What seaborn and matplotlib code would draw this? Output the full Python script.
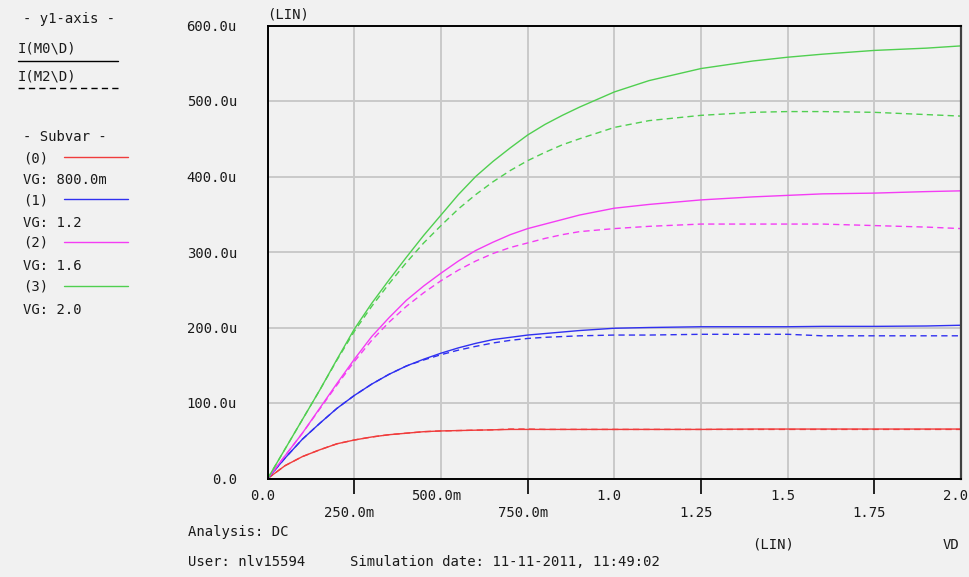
import matplotlib
matplotlib.use("Agg")
import matplotlib.pyplot as plt
import matplotlib.transforms as mtransforms
from matplotlib.lines import Line2D
from matplotlib.ticker import FixedLocator, FixedFormatter, FuncFormatter
import pandas as pd
import seaborn as sns

# Drain sweep VD (V)
VD = [0, 0.05, 0.1, 0.15, 0.2, 0.25, 0.3, 0.35, 0.4, 0.45, 0.5, 0.55, 0.6,
      0.65, 0.7, 0.75, 0.8, 0.85, 0.9, 1.0, 1.1, 1.25, 1.4, 1.5, 1.6, 1.75,
      1.9, 2.0]

# Drain currents in uA, device M0 (solid) and M2 (dashed), per gate voltage
m0_vg08 = [0, 17, 29, 38, 46, 51, 55, 58, 60, 62, 63, 63.5, 64, 64.5, 65, 65,
           65, 65, 65, 65, 65, 65, 65.5, 65.5, 65.5, 65.5, 65.5, 65.5]
m2_vg08 = [0, 17, 29, 38, 46, 51, 55, 58, 60, 62, 63, 63.5, 64, 64.5, 65.5,
           65.5, 65, 65, 65, 65, 65, 65, 65, 65, 65, 65, 65, 65]
m0_vg12 = [0, 27, 52, 73, 93, 110, 125, 138, 149, 158, 166, 173, 179, 184,
           187, 190, 192, 194, 196, 199, 200, 201, 201, 201, 201.5, 201.5,
           202, 203]
m2_vg12 = [0, 27, 52, 73, 93, 110, 125, 138, 149, 157, 164, 170, 175, 179.5,
           183, 185.5, 187, 188, 189, 190, 190, 191, 191, 191, 189, 189, 189,
           189]
m0_vg16 = [0, 30, 60, 93, 126, 158, 188, 213, 236, 255, 272, 288, 302, 313,
           323, 331, 337, 343, 349, 358, 363, 369, 373, 375, 377, 378, 380,
           381]
m2_vg16 = [0, 30, 60, 92, 124, 155, 183, 207, 228, 246, 262, 276, 288, 298,
           306, 312, 318, 323, 327, 331, 334, 337, 337, 337, 337, 335, 333,
           331]
m0_vg20 = [0, 39, 78, 117, 158, 198, 232, 263, 293, 322, 349, 376, 400, 420,
           438, 455, 469, 481, 492, 512, 527, 543, 553, 558, 562, 567, 570,
           573]
m2_vg20 = [0, 39, 78, 117, 157, 195, 228, 258, 286, 312, 335, 357, 376, 393,
           408, 421, 432, 442, 450, 465, 474, 481, 485, 486, 486, 485, 482,
           480]

subvars = ["(0)", "(1)", "(2)", "(3)"]
vg_labels = ["VG: 800.0m", "VG: 1.2", "VG: 1.6", "VG: 2.0"]
colors = ["#f03c3c", "#3030f0", "#f43cf4", "#50cf50"]
devices = ["I(M0\\D)", "I(M2\\D)"]

x_ticks = [0, 0.25, 0.5, 0.75, 1.0, 1.25, 1.5, 1.75, 2.0]
x_tick_labels = ["0.0", "250.0m", "500.0m", "750.0m", "1.0", "1.25", "1.5",
                 "1.75", "2.0"]
y_ticks = [0, 100, 200, 300, 400, 500, 600]

series = {
    ("(0)", devices[0]): m0_vg08, ("(0)", devices[1]): m2_vg08,
    ("(1)", devices[0]): m0_vg12, ("(1)", devices[1]): m2_vg12,
    ("(2)", devices[0]): m0_vg16, ("(2)", devices[1]): m2_vg16,
    ("(3)", devices[0]): m0_vg20, ("(3)", devices[1]): m2_vg20,
}
frames = []
for (sv, dev), vals in series.items():
    frames.append(pd.DataFrame({"VD": VD, "I": vals, "subvar": sv, "device": dev}))
df = pd.concat(frames, ignore_index=True)

BG = "#f1f1f1"
sns.set_style("white", {"axes.facecolor": BG, "figure.facecolor": BG})
plt.rcParams["font.family"] = ["DejaVu Sans Mono", "DejaVu Sans"]
plt.rcParams["font.size"] = 10

W, H = 969, 577
fig = plt.figure(figsize=(W / 100, H / 100), dpi=100)
fig.patch.set_facecolor(BG)

# plot area in pixel coordinates
x0, x1, ytop, ybot = 267.7, 961.0, 25.5, 478.5
ax = fig.add_axes([x0 / W, 1 - ybot / H, (x1 - x0) / W, (ybot - ytop) / H])
ax.set_facecolor(BG)

sns.lineplot(data=df, x="VD", y="I", hue="subvar", style="device",
             hue_order=subvars, palette=colors, style_order=devices,
             dashes={devices[0]: "", devices[1]: (4.5, 3)},
             estimator=None, sort=False, legend=False, linewidth=1.0, ax=ax)

ax.set_xlim(0, 2.0)
ax.set_ylim(0, 600)
ax.set_xlabel("")
ax.set_ylabel("")

# grid and ticks: upper-row labels on major ticks, lower-row on minor ticks
ax.set_axisbelow(True)
ax.xaxis.set_major_locator(FixedLocator(x_ticks[0::2]))
ax.xaxis.set_minor_locator(FixedLocator(x_ticks[1::2]))
ax.xaxis.set_major_formatter(FixedFormatter(x_tick_labels[0::2]))
ax.xaxis.set_minor_formatter(FixedFormatter(x_tick_labels[1::2]))
ax.yaxis.set_major_locator(FixedLocator(y_ticks))
ax.yaxis.set_major_formatter(FuncFormatter(lambda v, p: "0.0" if v == 0 else f"{v:.1f}u"))
ax.grid(True, which="both", axis="x", color="#c9c9c9", linewidth=1.4)
ax.grid(True, which="major", axis="y", color="#c9c9c9", linewidth=1.4)

ax.tick_params(axis="x", which="major", direction="out", length=2.9, width=1.2,
               color="black", pad=5.0, labelsize=10, labelcolor="#1a1a1a")
ax.tick_params(axis="x", which="minor", direction="out", length=10.8, width=1.2,
               color="black", pad=9.2, labelsize=10, labelcolor="#1a1a1a",
               bottom=True)
ax.tick_params(axis="y", which="major", direction="out", length=7.2, width=1.2,
               color="black", pad=15, labelsize=10, labelcolor="#1a1a1a")

shift = mtransforms.ScaledTranslation(-5 / 100, 0, fig.dpi_scale_trans)
for lab in ax.xaxis.get_majorticklabels() + ax.xaxis.get_minorticklabels():
    lab.set_transform(lab.get_transform() + shift)

for side in ("left", "bottom", "top"):
    ax.spines[side].set_color("black")
    ax.spines[side].set_linewidth(1.4)
ax.spines["right"].set_color("#404040")
ax.spines["right"].set_linewidth(1.6)


def ftext(px, py, s, **kw):
    fig.text(px / W, 1 - py / H, s, va="center", ha=kw.pop("ha", "left"),
             fontsize=10, color="#1a1a1a", **kw)


def fline(xa, xb, py, **kw):
    fig.add_artist(Line2D([xa / W, xb / W], [1 - py / H, 1 - py / H],
                          transform=fig.transFigure, **kw))


# axis annotations
ftext(267, 15, "(LIN)")
ftext(752, 545, "(LIN)")
ftext(943, 545, "VD")
ftext(188, 532, "Analysis: DC")
ftext(188, 562, "User: nlv15594")
ftext(350, 562, "Simulation date: 11-11-2011, 11:49:02")

# legend panel
ftext(23, 19, "- y1-axis -")
ftext(18, 48, devices[0])
fline(18, 118, 61, color="black", linewidth=1.0)
ftext(18, 76, devices[1])
fline(18, 118, 88, color="black", linewidth=1.0, dashes=(4.5, 3))
ftext(23, 137, "- Subvar -")
row_y = [158, 200, 243, 287]
for sv, vg, c, yy in zip(subvars, vg_labels, colors, row_y):
    ftext(23, yy, sv)
    fline(64, 128, yy - 1, color=c, linewidth=1.0)
    ftext(23, yy + 22.5, vg)

fig.savefig("out.png", dpi=100, facecolor=BG)
